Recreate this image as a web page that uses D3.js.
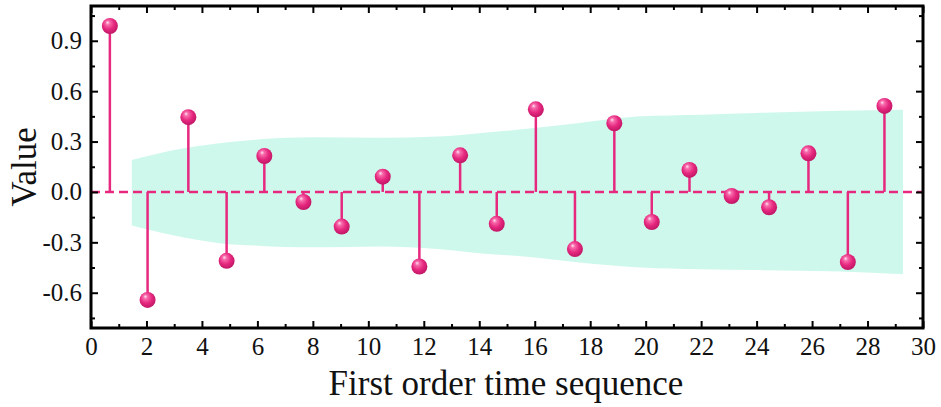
<!DOCTYPE html>
<html>
<head>
<meta charset="utf-8">
<script src="https://cdn.jsdelivr.net/npm/d3@7"></script>
<style>
  body { margin: 0; background: #fff; }
  text { font-family: "Liberation Serif", "Times New Roman", serif; }
</style>
</head>
<body>
<div id="chart"></div>
<script>

// stem positions and values
const lags = [0.68, 2.04, 3.51, 4.89, 6.25, 7.66, 9.04, 10.52, 11.84, 13.31, 14.63,
              16.04, 17.45, 18.87, 20.22, 21.58, 23.1, 24.45, 25.87, 27.29, 28.61];
const values = [0.988, -0.643, 0.445, -0.41, 0.214, -0.06, -0.206, 0.091, -0.444, 0.218, -0.19,
                0.492, -0.34, 0.409, -0.179, 0.131, -0.024, -0.091, 0.23, -0.417, 0.512];

// confidence band
const bandX     = [1.47, 3.0, 4.62, 6.0, 8.0, 10.4, 12.5, 14.0, 16, 17.6, 19.8, 22, 24, 27, 29.28];
const bandUpper = [0.19, 0.25, 0.29, 0.312, 0.325, 0.322, 0.33, 0.35, 0.38, 0.41, 0.45, 0.46, 0.47, 0.484, 0.49];
const bandLower = [-0.20, -0.26, -0.305, -0.32, -0.33, -0.325, -0.34, -0.365, -0.39, -0.42, -0.45, -0.46, -0.465, -0.474, -0.49];

const xTicks = [0, 2, 4, 6, 8, 10, 12, 14, 16, 18, 20, 22, 24, 26, 28, 30];
const xMinorTicks = [1, 3, 5, 7, 9, 11, 13, 15, 17, 19, 21, 23, 25, 27, 29];
const yTicks = [-0.6, -0.3, 0.0, 0.3, 0.6, 0.9];
const yTickLabels = ["-0.6", "-0.3", "0.0", "0.3", "0.6", "0.9"];
const yMinorTicks = [-0.75, -0.45, -0.15, 0.15, 0.45, 0.75, 1.05];

const width = 941, height = 407;
const margin = {top: 6, right: 18, bottom: 79, left: 91};
const w = width - margin.left - margin.right;
const h = height - margin.top - margin.bottom;

const pink = "#e6287f";

const svg = d3.select("#chart").append("svg")
    .attr("width", width)
    .attr("height", height);

const defs = svg.append("defs");
const grad = defs.append("radialGradient")
    .attr("id", "ball")
    .attr("cx", "45%").attr("cy", "40%").attr("r", "60%")
    .attr("fx", "35%").attr("fy", "28%");
grad.append("stop").attr("offset", "0%").attr("stop-color", "#ffe6f1");
grad.append("stop").attr("offset", "22%").attr("stop-color", "#f76aab");
grad.append("stop").attr("offset", "60%").attr("stop-color", "#e6287f");
grad.append("stop").attr("offset", "100%").attr("stop-color", "#c01666");

const g = svg.append("g")
    .attr("transform", `translate(${margin.left},${margin.top})`);

const x = d3.scaleLinear().domain([0, 30]).range([0, w]);
const y = d3.scaleLinear().domain([-0.81, 1.107]).range([h, 0]);

// band
const band = bandX.map((d, i) => ({x: d, lo: bandLower[i], hi: bandUpper[i]}));
const area = d3.area()
    .curve(d3.curveMonotoneX)
    .x(d => x(d.x))
    .y0(d => y(d.lo))
    .y1(d => y(d.hi));

g.append("path")
    .datum(band)
    .attr("fill", "#cff8ec")
    .attr("d", area);

// zero line
g.append("line")
    .attr("x1", 0).attr("x2", w)
    .attr("y1", y(0)).attr("y2", y(0))
    .attr("stroke", pink)
    .attr("stroke-width", 2.5)
    .attr("stroke-dasharray", "9,5");

const pts = lags.map((d, i) => ({x: d, v: values[i]}));

g.selectAll(".stem")
    .data(pts)
    .enter().append("line")
    .attr("class", "stem")
    .attr("x1", d => x(d.x)).attr("x2", d => x(d.x))
    .attr("y1", y(0)).attr("y2", d => y(d.v))
    .attr("stroke", pink)
    .attr("stroke-width", 2.5);

g.selectAll(".ball")
    .data(pts)
    .enter().append("circle")
    .attr("class", "ball")
    .attr("cx", d => x(d.x))
    .attr("cy", d => y(d.v))
    .attr("r", 8)
    .attr("fill", "url(#ball)");

// axes
function styleAxis(sel) {
    sel.select(".domain").remove();
    sel.selectAll("line").attr("stroke", "#000").attr("stroke-width", 2);
    sel.selectAll("text").attr("font-size", 25).attr("fill", "#111");
}

g.append("g")
    .attr("transform", `translate(0,${h})`)
    .call(d3.axisBottom(x).tickValues(xTicks).tickSize(-7).tickPadding(9).tickFormat(d3.format("d")))
    .call(styleAxis);
g.append("g")
    .attr("transform", `translate(0,${h})`)
    .call(d3.axisBottom(x).tickValues(xMinorTicks).tickSize(-4).tickFormat(""))
    .call(styleAxis);
g.append("g")
    .call(d3.axisTop(x).tickValues(xTicks).tickSize(-7).tickFormat(""))
    .call(styleAxis);
g.append("g")
    .call(d3.axisTop(x).tickValues(xMinorTicks).tickSize(-4).tickFormat(""))
    .call(styleAxis);

g.append("g")
    .call(d3.axisLeft(y).tickValues(yTicks).tickSize(-7).tickPadding(9)
        .tickFormat((d, i) => yTickLabels[i]))
    .call(styleAxis);
g.append("g")
    .call(d3.axisLeft(y).tickValues(yMinorTicks).tickSize(-4).tickFormat(""))
    .call(styleAxis);
g.append("g")
    .attr("transform", `translate(${w},0)`)
    .call(d3.axisRight(y).tickValues(yTicks).tickSize(-7).tickFormat(""))
    .call(styleAxis);
g.append("g")
    .attr("transform", `translate(${w},0)`)
    .call(d3.axisRight(y).tickValues(yMinorTicks).tickSize(-4).tickFormat(""))
    .call(styleAxis);

// frame
g.append("rect")
    .attr("width", w).attr("height", h)
    .attr("fill", "none")
    .attr("stroke", "#000")
    .attr("stroke-width", 3);

// labels
svg.append("text")
    .attr("x", margin.left + w / 2 - 1)
    .attr("y", 395)
    .attr("text-anchor", "middle")
    .attr("font-size", 35)
    .attr("fill", "#111")
    .text("First order time sequence");

svg.append("text")
    .attr("transform", `translate(36,${margin.top + h / 2}) rotate(-90)`)
    .attr("text-anchor", "middle")
    .attr("font-size", 35)
    .attr("fill", "#111")
    .text("Value");

</script>
</body>
</html>
